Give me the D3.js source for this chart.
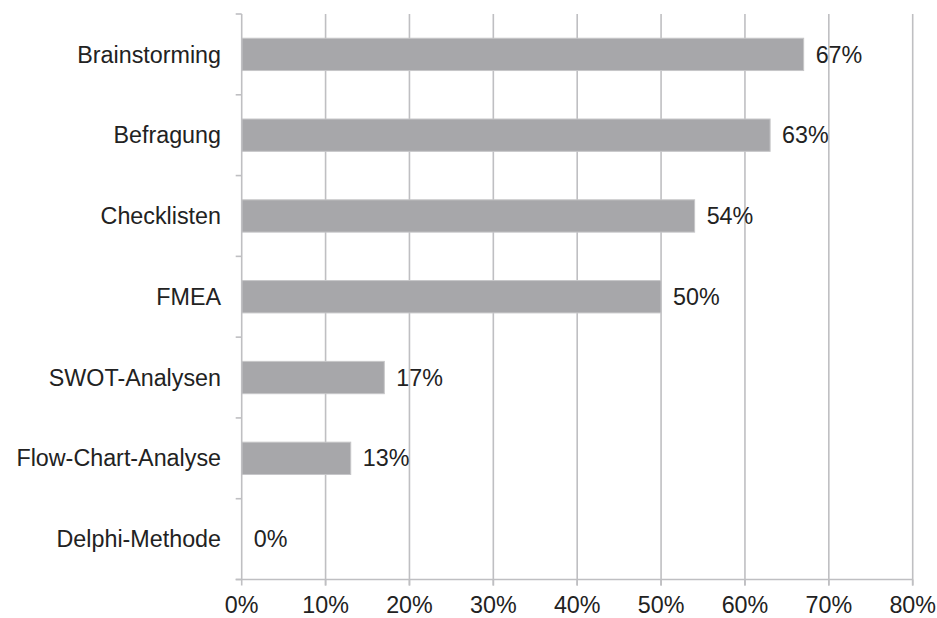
<!DOCTYPE html>
<html>
<head>
<meta charset="utf-8">
<script src="https://cdn.jsdelivr.net/npm/d3@7"></script>
<style>
  html, body { margin: 0; padding: 0; background: #fff; }
  svg text { font-family: "Liberation Sans", Arial, sans-serif; fill: #222; }
</style>
</head>
<body>
<svg id="chart" width="937" height="618"></svg>
<script>
// Methods and share of respondents using them
const categories = ["Brainstorming", "Befragung", "Checklisten", "FMEA", "SWOT-Analysen", "Flow-Chart-Analyse", "Delphi-Methode"];
const values = [67, 63, 54, 50, 17, 13, 0];
const xTicks = [0, 10, 20, 30, 40, 50, 60, 70, 80];

const svg = d3.select("#chart");
const plotLeft = 241.7, plotRight = 912.7, plotTop = 14, plotBottom = 579.5;
const fontSize = "23.3px";
const gridColor = "#bfbfc2";

const x = d3.scaleLinear().domain([0, 80]).range([plotLeft, plotRight]);
const y = d3.scaleBand().domain(categories).range([plotTop, plotBottom]).paddingInner(0.6).paddingOuter(0.3);
const rows = categories.map((c, i) => ({ c, v: values[i] }));

// vertical gridlines
svg.append("g")
  .selectAll("line")
  .data(xTicks.slice(1))
  .join("line")
  .attr("x1", d => x(d)).attr("x2", d => x(d))
  .attr("y1", plotTop).attr("y2", plotBottom + 6)
  .attr("stroke", gridColor).attr("stroke-width", 1.6);

// bars
svg.append("g")
  .selectAll("rect")
  .data(rows.filter(d => d.v > 0))
  .join("rect")
  .attr("x", x(0))
  .attr("y", d => y(d.c))
  .attr("width", d => x(d.v) - x(0))
  .attr("height", y.bandwidth())
  .attr("fill", "#a7a7aa")
  .attr("stroke", "#c6c6c8")
  .attr("stroke-width", 1);

// value labels
svg.append("g")
  .selectAll("text")
  .data(rows)
  .join("text")
  .attr("x", d => x(d.v) + 12)
  .attr("y", d => y(d.c) + y.bandwidth() / 2)
  .attr("dy", "0.35em")
  .attr("font-size", fontSize)
  .text(d => d.v + "%");

// y axis line and boundary ticks
const yAxis = svg.append("g");
yAxis.append("line")
  .attr("x1", plotLeft).attr("x2", plotLeft)
  .attr("y1", plotTop).attr("y2", plotBottom)
  .attr("stroke", gridColor).attr("stroke-width", 1.6);
const step = (plotBottom - plotTop) / categories.length;
yAxis.selectAll("line.tick")
  .data(d3.range(categories.length + 1))
  .join("line")
  .attr("class", "tick")
  .attr("x1", plotLeft - 6).attr("x2", plotLeft)
  .attr("y1", i => plotTop + i * step).attr("y2", i => plotTop + i * step)
  .attr("stroke", gridColor).attr("stroke-width", 1.6);

// category labels
yAxis.selectAll("text")
  .data(categories)
  .join("text")
  .attr("x", 221)
  .attr("y", d => y(d) + y.bandwidth() / 2)
  .attr("dy", "0.35em")
  .attr("text-anchor", "end")
  .attr("font-size", fontSize)
  .text(d => d);

// x axis line, ticks and labels
const xAxis = svg.append("g");
xAxis.append("line")
  .attr("x1", plotLeft - 6).attr("x2", plotRight)
  .attr("y1", plotBottom).attr("y2", plotBottom)
  .attr("stroke", gridColor).attr("stroke-width", 1.6);
xAxis.selectAll("line.tick")
  .data(xTicks)
  .join("line")
  .attr("class", "tick")
  .attr("x1", d => x(d)).attr("x2", d => x(d))
  .attr("y1", plotBottom).attr("y2", plotBottom + 6)
  .attr("stroke", gridColor).attr("stroke-width", 1.6);
xAxis.selectAll("text")
  .data(xTicks)
  .join("text")
  .attr("x", d => x(d))
  .attr("y", 612.5)
  .attr("text-anchor", "middle")
  .attr("font-size", fontSize)
  .text(d => d + "%");
</script>
</body>
</html>
